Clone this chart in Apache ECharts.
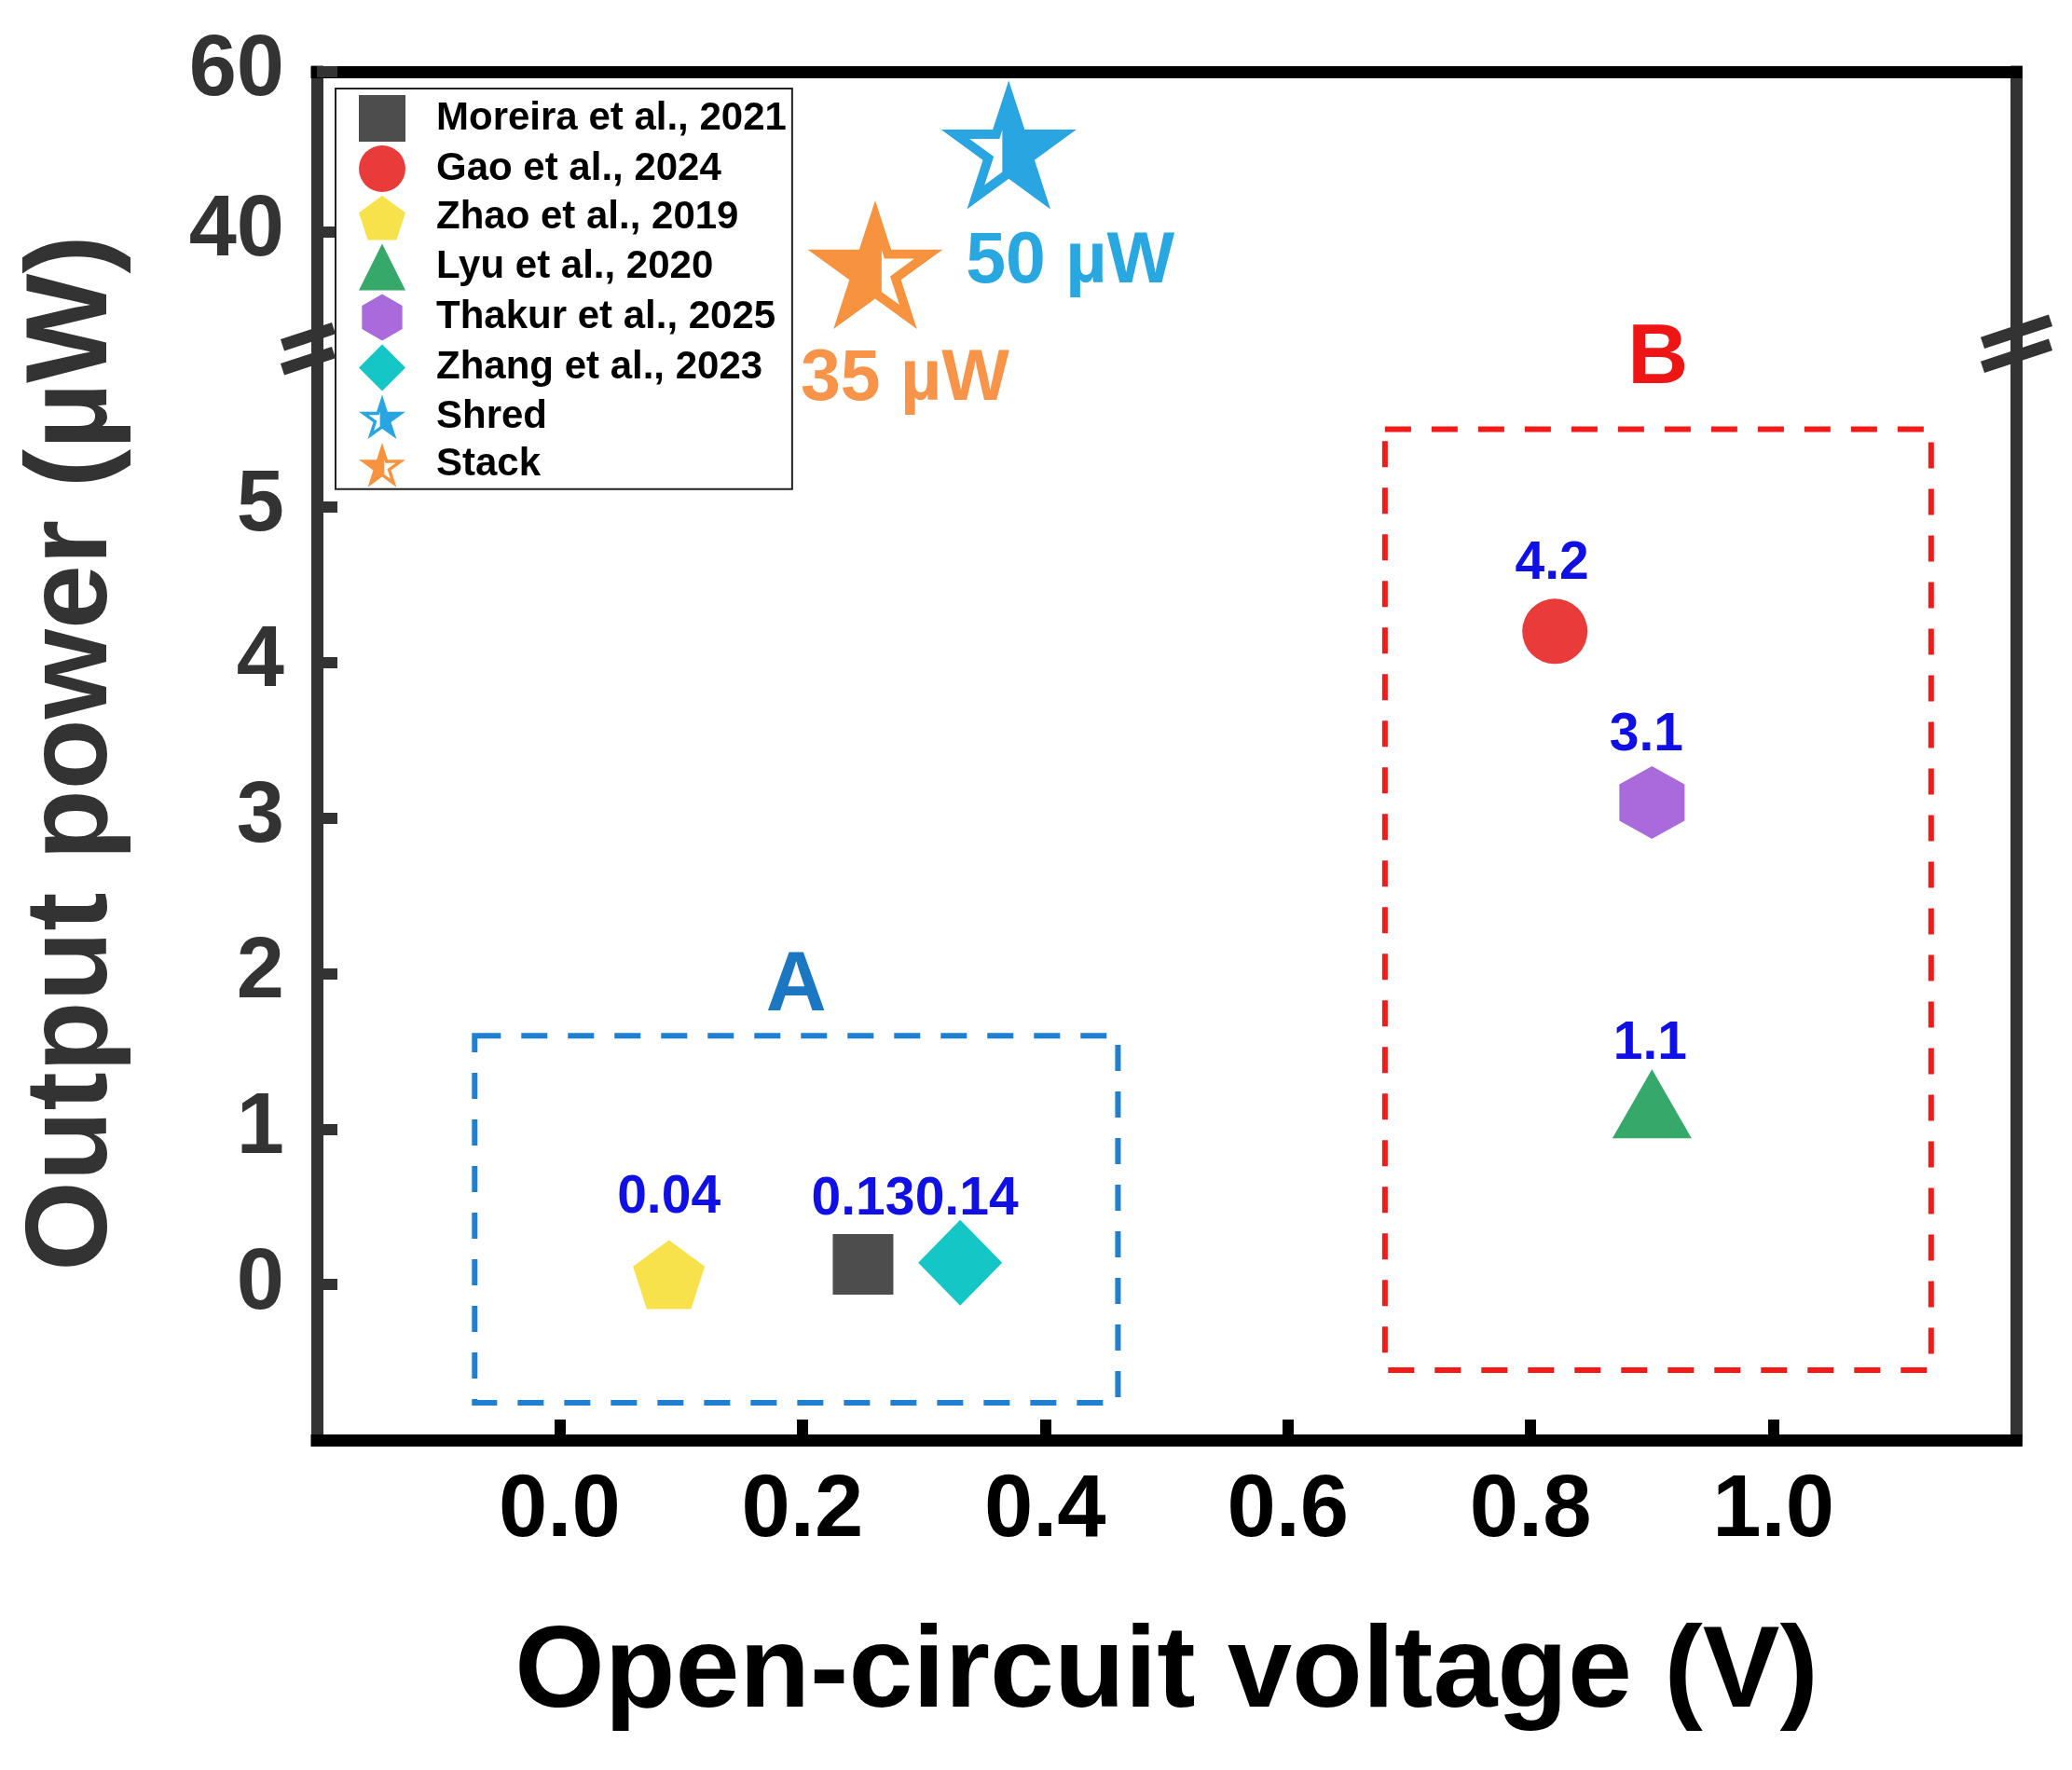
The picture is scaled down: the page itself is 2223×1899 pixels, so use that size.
<!DOCTYPE html>
<html><head><meta charset="utf-8">
<script src="https://cdn.jsdelivr.net/npm/echarts@6/dist/echarts.min.js"></script>
<style>html,body{margin:0;padding:0;background:#fff}#c{width:2223px;height:1899px}</style>
</head><body><div id="c"></div>
<script>
// ---------- data ----------
const seriesNames = ['Moreira et al., 2021','Gao et al., 2024','Zhao et al., 2019','Lyu et al., 2020','Thakur et al., 2025','Zhang et al., 2023','Shred','Stack'];
const voltage = [0.25, 0.82, 0.09, 0.90, 0.90, 0.33, 0.37, 0.26];
const power   = [0.13, 4.2, 0.04, 1.1, 3.1, 0.14, 50, 35];
const pointLabels = ['0.13','4.2','0.04','1.1','3.1','0.14','50 µW','35 µW'];
const xTicks = [0, 0.2, 0.4, 0.6, 0.8, 1.0];
const yLowTicks = [0, 1, 2, 3, 4, 5];
const yHighTicks = [40, 60];
const xRange = [-0.2, 1.2];
const yLowRange = [-1, 6];
const yHighRange = [25, 60];
const boxAX = [-0.07, 0.46];
const boxAY = [-0.76, 1.6];
const boxBX = [0.68, 1.13];
const boxBY = [-0.55, 5.5];
const boxLabels = ['A', 'B'];

// ---------- symbol shapes ----------
function polyPath(pts){return 'M' + pts.map(p => p[0].toFixed(2) + ' ' + p[1].toFixed(2)).join(' L') + ' Z';}
function regular(n, R, startDeg){const pts=[];for(let k=0;k<n;k++){const a=(startDeg+360*k/n)*Math.PI/180;pts.push([R*Math.cos(a),R*Math.sin(a)]);}return pts;}
function starPts(R, r){const pts=[];for(let k=0;k<10;k++){const a=(-90+36*k)*Math.PI/180;const rr=k%2===0?R:r;pts.push([rr*Math.cos(a),rr*Math.sin(a)]);}return pts;}
function clipX(pts, c, keepRight){
  const inside = p => keepRight ? p[0] >= c : p[0] <= c;
  const out=[];
  for(let i=0;i<pts.length;i++){
    const a=pts[i], b=pts[(i+1)%pts.length];
    const ia=inside(a), ib=inside(b);
    if(ia) out.push(a);
    if(ia!==ib){const t=(c-a[0])/(b[0]-a[0]);out.push([c, a[1]+t*(b[1]-a[1])]);}
  }
  return out;
}
function halfStar(leftFilled){
  const outer = starPts(100, 38.2);
  const inner = outer.map(p => [p[0]*0.58, p[1]*0.58]);
  const hole = (leftFilled ? clipX(inner, 9, true) : clipX(inner, -9, false)).reverse();
  return 'path://' + polyPath(outer) + ' ' + polyPath(hole);
}
const pentagon = 'path://' + polyPath(regular(5, 100, -90));
const hexagon = 'path://' + polyPath(regular(6, 100, -90));

const FONT = '"Liberation Sans", Arial, sans-serif';
const LABEL_BLUE = '#1010e6';

const styles = [
  {symbol:'rect', size:[65,65], color:'#4d4d4d', off:[0,0], lab:[0,-69], lc:LABEL_BLUE, fs:57},
  {symbol:'circle', size:[70,70], color:'#ea3b3b', off:[0,0], lab:[-3,-72], lc:LABEL_BLUE, fs:57},
  {symbol:pentagon, size:[77,74], color:'#f7e24c', off:[0,'-5.3%'], lab:[0,-82], lc:LABEL_BLUE, fs:57},
  {symbol:'triangle', size:[85,74], color:'#35a86a', off:[0,'-14%'], lab:[-2,-64], lc:LABEL_BLUE, fs:57},
  {symbol:hexagon, size:[70,78], color:'#a96bdc', off:[0,0], lab:[-6,-72], lc:LABEL_BLUE, fs:57},
  {symbol:'diamond', size:[90,92], color:'#14c6c6', off:[0,0], lab:[7,-68], lc:LABEL_BLUE, fs:57},
  {symbol:halfStar(false), size:[145,138], color:'#29a5e2', off:[0,'-5.3%'], lab:[66,126], lc:'#29a7e1', fs:77},
  {symbol:halfStar(true), size:[145,138], color:'#f7933f', off:[0,'-5.3%'], lab:[32,124], lc:'#f7944a', fs:77}
];

const series = seriesNames.map((name, i) => {
  const st = styles[i];
  const upper = i >= 6;
  const s = {
    name, type:'scatter',
    xAxisIndex: upper ? 0 : 1,
    yAxisIndex: upper ? 0 : 2,
    symbol: st.symbol, symbolSize: st.size, symbolOffset: st.off, symbolKeepAspect:false,
    itemStyle:{color: st.color, opacity:1},
    emphasis:{disabled:true},
    z: 5,
    label:{show:true, position:'inside', offset: st.lab, formatter: pointLabels[i], color: st.lc,
      fontSize: st.fs, fontWeight:'bold', fontFamily: FONT},
    data:[[voltage[i], power[i]]]
  };
  if (i === 0) {
    const dash = {borderType:[28,22], borderWidth:6, color:'rgba(0,0,0,0)'};
    s.markArea = {
      silent:true, z:1,
      data:[
        [{coord:[boxAX[0], boxAY[1]], itemStyle:Object.assign({borderColor:'#1f80d2'}, dash),
          label:{show:true, formatter:boxLabels[0], position:'top', distance:4, color:'#1c77c3', fontSize:90, fontWeight:'bold', fontFamily:FONT}},
         {coord:[boxAX[1], boxAY[0]]}],
        [{coord:[boxBX[0], boxBY[1]], itemStyle:Object.assign({borderColor:'#f51a1a'}, dash),
          label:{show:true, formatter:boxLabels[1], position:'top', distance:26, color:'#f01515', fontSize:90, fontWeight:'bold', fontFamily:FONT}},
         {coord:[boxBX[1], boxBY[0]]}]
      ]
    };
  }
  return s;
});

const lineS = (c) => ({show:true, onZero:false, lineStyle:{color:c, width:13, cap:'square'}});

const option = {
  animation:false,
  backgroundColor:'#fff',
  grid:[
    {left:340, right:60, top:77, height:300},
    {left:340, right:60, top:377, bottom:354}
  ],
  xAxis:[
    {gridIndex:0, type:'value', min:xRange[0], max:xRange[1], position:'top',
      axisLine: lineS('#000'), axisTick:{show:false}, axisLabel:{show:false}, splitLine:{show:false}},
    {gridIndex:1, type:'value', min:xRange[0], max:xRange[1], position:'bottom',
      axisLine: lineS('#000'),
      axisTick:{show:true, inside:true, length:22, customValues:xTicks, lineStyle:{color:'#000', width:12}},
      axisLabel:{show:true, customValues:xTicks, formatter:v => Number(v).toFixed(1), fontSize:94, fontWeight:'bold', color:'#000', margin:30, fontFamily:FONT},
      splitLine:{show:false},
      name:'Open-circuit voltage (V)', nameLocation:'middle', nameGap:190,
      nameTextStyle:{fontSize:124, fontWeight:'bold', color:'#000', fontFamily:FONT}}
  ],
  yAxis:[
    {gridIndex:0, type:'value', min:yHighRange[0], max:yHighRange[1], position:'left',
      axisLine: lineS('#333'),
      axisTick:{show:true, inside:true, length:22, customValues:yHighTicks, lineStyle:{color:'#333', width:12}},
      axisLabel:{show:true, customValues:yHighTicks, fontSize:92, fontWeight:'bold', color:'#333', margin:35, fontFamily:FONT},
      splitLine:{show:false}},
    {gridIndex:0, type:'value', min:yHighRange[0], max:yHighRange[1], position:'right',
      axisLine: lineS('#333'), axisTick:{show:false}, axisLabel:{show:false}, splitLine:{show:false}},
    {gridIndex:1, type:'value', min:yLowRange[0], max:yLowRange[1], position:'left',
      axisLine: lineS('#333'),
      axisTick:{show:true, inside:true, length:22, customValues:yLowTicks, lineStyle:{color:'#333', width:12}},
      axisLabel:{show:true, customValues:yLowTicks, fontSize:92, fontWeight:'bold', color:'#333', margin:35, fontFamily:FONT},
      splitLine:{show:false}},
    {gridIndex:1, type:'value', min:yLowRange[0], max:yLowRange[1], position:'right',
      axisLine: lineS('#333'), axisTick:{show:false}, axisLabel:{show:false}, splitLine:{show:false}}
  ],
  legend:{
    orient:'vertical', left:360, top:95,
    data: seriesNames,
    itemWidth:50, itemHeight:50, itemGap:4,
    padding:[7, 6, 2, 25],
    borderColor:'#222', borderWidth:2, backgroundColor:'#fff',
    selectedMode:false,
    textStyle:{fontSize:42, fontWeight:'bold', color:'#000', fontFamily:FONT, padding:[0,0,0,28]}
  },
  series
};

const chart = echarts.init(document.getElementById('c'), null, {renderer:'canvas'});
chart.setOption(option);

// axis-break marks and rotated y title
const pl = chart.convertToPixel({xAxisIndex:1, yAxisIndex:2}, [xRange[0], yLowRange[1]]);
const pr = chart.convertToPixel({xAxisIndex:1, yAxisIndex:2}, [xRange[1], yLowRange[1]]);
const pTop = chart.convertToPixel({xAxisIndex:0, yAxisIndex:0}, [xRange[0], yHighRange[1]]);
const pBot = chart.convertToPixel({xAxisIndex:1, yAxisIndex:2}, [xRange[0], yLowRange[0]]);
function breakLines(cx, cy, x0, x1){
  const res=[];
  [-13, 13].forEach(dy => {
    res.push({type:'line', z:20, shape:{x1:cx+x0, y1:cy+dy-0.33*x0, x2:cx+x1, y2:cy+dy-0.33*x1},
      style:{stroke:'#333', lineWidth:13}});
  });
  return res;
}
const g = [].concat(
  breakLines(pl[0], pl[1]-6, -37, 18),
  breakLines(pr[0], pr[1]-8, -36, 37),
  [{type:'text', z:20, x:80, y:(pTop[1]+pBot[1])/2 - 3, rotation:Math.PI/2,
    style:{text:'Output power (µW)', fontSize:124, fontWeight:'bold', fontFamily:FONT, fill:'#333',
      align:'center', verticalAlign:'middle', textAlign:'center', textVerticalAlign:'middle'}}]
);
chart.setOption({graphic:g});
</script></body></html>
